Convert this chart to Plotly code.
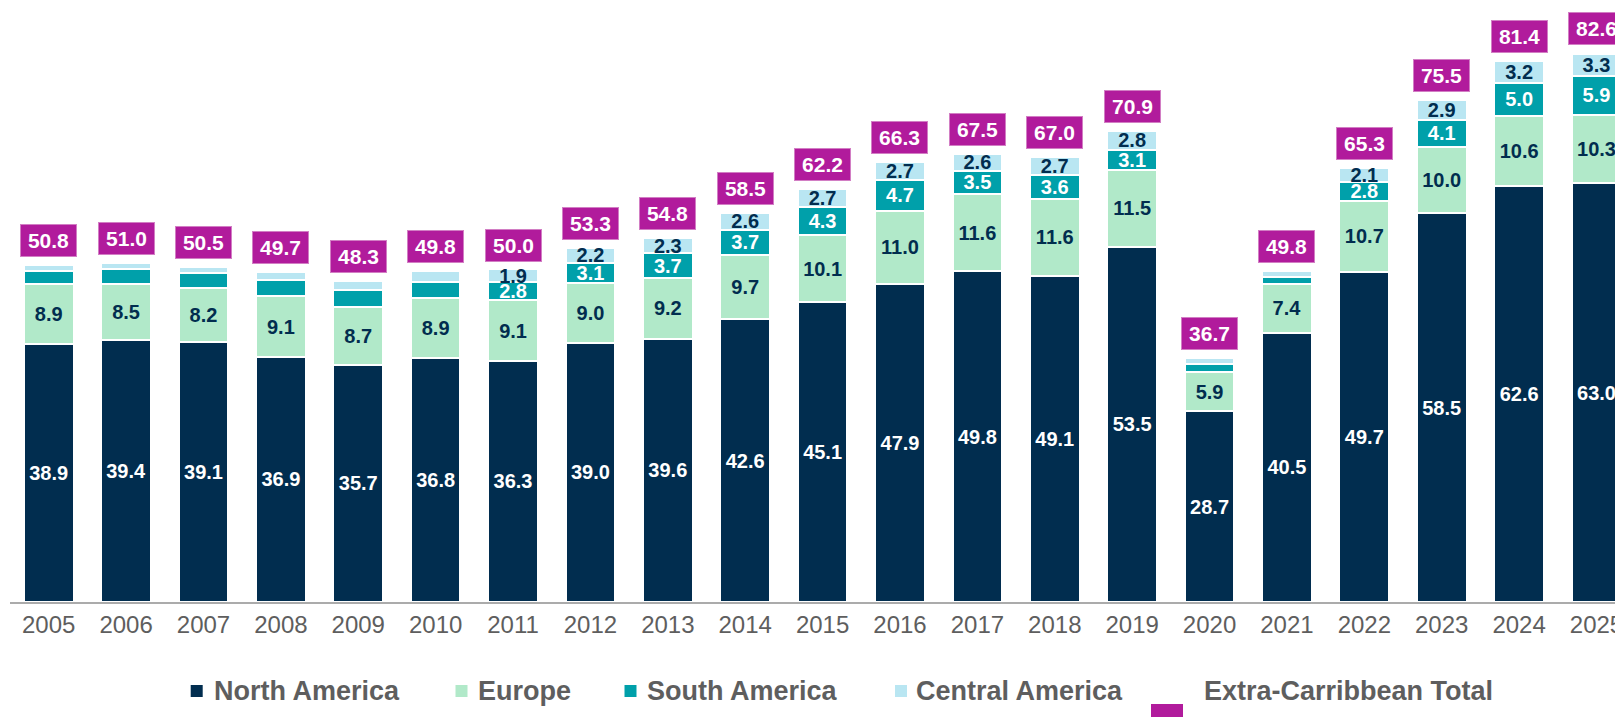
import plotly.graph_objects as go

# Extra-Caribbean arrivals by source region (millions)
years = list(range(2005, 2026))
north_america = [38.9, 39.4, 39.1, 36.9, 35.7, 36.8, 36.3, 39.0, 39.6, 42.6, 45.1,
                 47.9, 49.8, 49.1, 53.5, 28.7, 40.5, 49.7, 58.5, 62.6, 63.0]
europe = [8.9, 8.5, 8.2, 9.1, 8.7, 8.9, 9.1, 9.0, 9.2, 9.7, 10.1,
          11.0, 11.6, 11.6, 11.5, 5.9, 7.4, 10.7, 10.0, 10.6, 10.3]
south_america = [2.1, 2.2, 2.2, 2.4, 2.5, 2.5, 2.8, 3.1, 3.7, 3.7, 4.3,
                 4.7, 3.5, 3.6, 3.1, 1.3, 1.0, 2.8, 4.1, 5.0, 5.9]
central_america = [0.9, 0.9, 1.0, 1.3, 1.4, 1.6, 1.9, 2.2, 2.3, 2.6, 2.7,
                   2.7, 2.6, 2.7, 2.8, 0.8, 0.9, 2.1, 2.9, 3.2, 3.3]
totals = [50.8, 51.0, 50.5, 49.7, 48.3, 49.8, 50.0, 53.3, 54.8, 58.5, 62.2,
          66.3, 67.5, 67.0, 70.9, 36.7, 49.8, 65.3, 75.5, 81.4, 82.6]

# years where the thin South/Central America segments carry no value label
unlabelled_small_years = [2005, 2006, 2007, 2008, 2009, 2010, 2020, 2021]

series_names = ["North America", "Europe", "South America", "Central America"]
total_name = "Extra-Carribbean Total"

NAVY = "#012D4F"
MINT = "#B1E9C9"
TEAL = "#00A0AA"
SKY = "#B9E6F2"
MAGENTA = "#B11B9C"
GREY_TEXT = "#5E5E5E"
FONT = "Liberation Sans, Arial, sans-serif"

W, H = 1615, 717
M_L, M_R, M_T, M_B = 10, 0, 0, 115
PLOT_W = W - M_L - M_R
PLOT_H = H - M_T - M_B
SLOT_PX = 77.39          # horizontal distance between year slots
PX_PER_UNIT = 6.643      # vertical pixels per million


def fmt(values, hide_years=()):
    return ["" if y in hide_years else f"{v:.1f}" for y, v in zip(years, values)]


fig = go.Figure()
stack = [
    (series_names[0], north_america, NAVY, "white", ()),
    (series_names[1], europe, MINT, NAVY, ()),
    (series_names[2], south_america, TEAL, "white", unlabelled_small_years),
    (series_names[3], central_america, SKY, NAVY, unlabelled_small_years),
]
for name, vals, color, txt_color, hide in stack:
    fig.add_trace(go.Bar(
        name=name, x=years, y=vals,
        marker=dict(color=color, line=dict(color="white", width=2)),
        width=0.642,
        text=fmt(vals, hide),
        textposition="inside", insidetextanchor="middle", textangle=0,
        constraintext="none",
        textfont=dict(family=FONT, size=20, color=txt_color, weight="bold"),
        showlegend=False, hoverinfo="x+y+name",
    ))

# total value boxes above each stack
for y, t in zip(years, totals):
    fig.add_annotation(
        x=y, y=t, xref="x", yref="y",
        text=f"{t:.1f}", showarrow=False,
        yanchor="bottom", yshift=8,
        font=dict(family=FONT, size=21, color="white", weight="bold"),
        bgcolor=MAGENTA, bordercolor="#D27EC4", borderwidth=1, borderpad=2,
        width=51, height=27, align="center", valign="middle",
    )

# legend row drawn in paper space
def px_to_paper_x(px):
    return (px - M_L) / PLOT_W


def px_to_paper_y(py):
    return (M_T + PLOT_H - py) / PLOT_H


legend_items = [
    (series_names[0], NAVY, 190.7, 211.5),
    (series_names[1], MINT, 455.5, 476.0),
    (series_names[2], TEAL, 624.5, 645.0),
    (series_names[3], SKY, 895.0, 913.5),
]
LEG_Y = 691
for name, color, mx, tx in legend_items:
    fig.add_shape(type="rect", xref="paper", yref="paper",
                  x0=px_to_paper_x(mx), x1=px_to_paper_x(mx + 12),
                  y0=px_to_paper_y(LEG_Y + 6), y1=px_to_paper_y(LEG_Y - 6),
                  fillcolor=color, line=dict(width=0), layer="above")
    fig.add_annotation(x=px_to_paper_x(tx), y=px_to_paper_y(LEG_Y),
                       xref="paper", yref="paper", xanchor="left", yanchor="middle",
                       text=name, showarrow=False,
                       font=dict(family=FONT, size=27, color=GREY_TEXT, weight="bold"))

fig.add_shape(type="rect", xref="paper", yref="paper",
              x0=px_to_paper_x(1151), x1=px_to_paper_x(1183),
              y0=px_to_paper_y(720), y1=px_to_paper_y(704),
              fillcolor=MAGENTA, line=dict(width=0), layer="above")
fig.add_annotation(x=px_to_paper_x(1202), y=px_to_paper_y(LEG_Y),
                   xref="paper", yref="paper", xanchor="left", yanchor="middle",
                   text=total_name, showarrow=False,
                   font=dict(family=FONT, size=27, color=GREY_TEXT, weight="bold"))

x_lo = years[0] - 0.5
x_hi = x_lo + PLOT_W / SLOT_PX
y_hi = PLOT_H / PX_PER_UNIT

fig.update_layout(
    barmode="stack",
    width=W, height=H,
    margin=dict(l=M_L, r=M_R, t=M_T, b=M_B, pad=0),
    paper_bgcolor="white", plot_bgcolor="white",
    showlegend=False,
    font=dict(family=FONT),
    xaxis=dict(
        range=[x_lo, x_hi], tickmode="array", tickvals=years,
        ticktext=[str(y) for y in years],
        tickfont=dict(family=FONT, size=24, color=GREY_TEXT),
        ticklabeloverflow="allow",
        showgrid=False, zeroline=False, ticks="",
        showline=True, linecolor="#ABABAB", linewidth=2,
        automargin=False, fixedrange=True,
    ),
    yaxis=dict(range=[0, y_hi], visible=False, showgrid=False,
               zeroline=False, automargin=False, fixedrange=True),
)

fig.write_html("out.html", config={"displayModeBar": False})
